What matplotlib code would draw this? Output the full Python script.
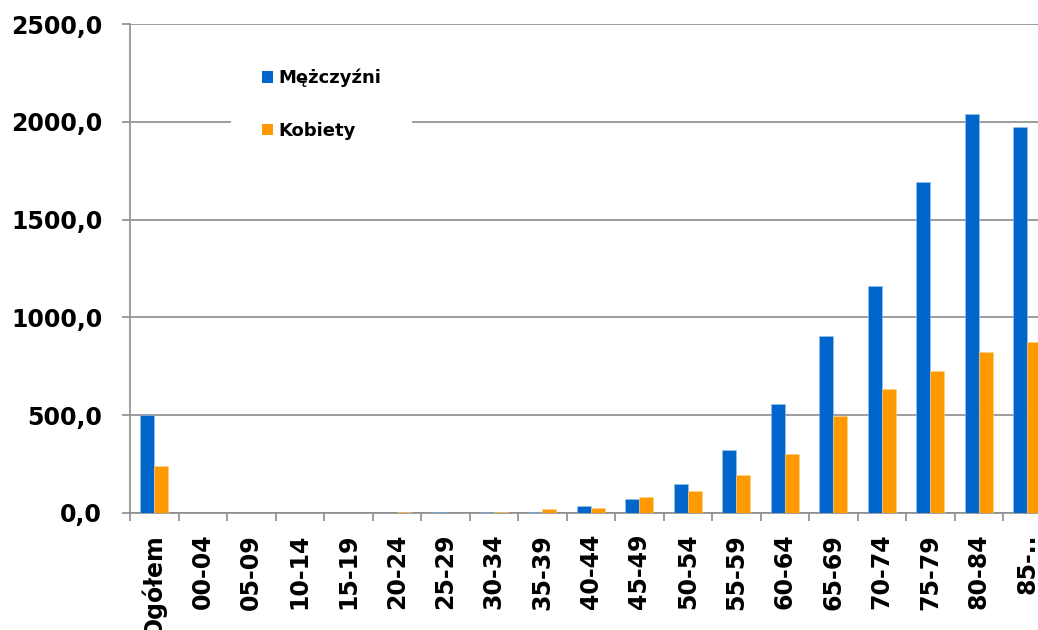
import matplotlib
matplotlib.use('Agg')
import matplotlib.pyplot as plt
from matplotlib.patches import Patch
from matplotlib.ticker import FuncFormatter, FixedLocator
import numpy as np

# dane
kategorie = ['Ogółem', '00-04', '05-09', '10-14', '15-19', '20-24', '25-29',
             '30-34', '35-39', '40-44', '45-49', '50-54', '55-59', '60-64',
             '65-69', '70-74', '75-79', '80-84', '85-..']
mezczyzni = [501, 0, 0, 0, 0, 0, 3, 3, 5, 36, 70, 147, 322, 557, 906,
             1160, 1692, 2040, 1975]
kobiety = [240, 0, 0, 0, 0, 3, 0, 3, 21, 28, 82, 111, 194, 300, 496,
           634, 724, 825, 873]
y_ticks = [0, 500, 1000, 1500, 2000, 2500]

niebieski = '#0066CC'
pomaranczowy = '#FF9900'
szary = '#8c8c8c'

fig = plt.figure(figsize=(10.38, 6.30), dpi=100)
ax = fig.add_axes([130/1038, 1-513/630, 921.5/1038, 489/630])

x = np.arange(len(kategorie))
w = 0.29
ax.bar(x - w/2, mezczyzni, w, color=niebieski, edgecolor='#9cc3ea', linewidth=0.4, zorder=3)
ax.bar(x + w/2, kobiety, w, color=pomaranczowy, edgecolor='#ffd08a', linewidth=0.4, zorder=3)

ax.set_xlim(-0.5, len(kategorie) - 0.5)
ax.set_ylim(0, 2500)
ax.set_yticks(y_ticks)
ax.yaxis.set_major_formatter(FuncFormatter(lambda v, p: ('%.1f' % v).replace('.', ',')))
ax.yaxis.grid(True, color=szary, linewidth=1.2, zorder=0)
ax.set_axisbelow(True)

ax.set_xticks(x)
ax.set_xticklabels(kategorie, rotation=90, fontsize=17, fontweight='bold', va='top')
ax.xaxis.set_minor_locator(FixedLocator(np.arange(-0.5, len(kategorie), 1)))
ax.tick_params(axis='x', which='major', length=0, pad=15)
ax.tick_params(axis='x', which='minor', length=6, color=szary, width=1.2)
ax.tick_params(axis='y', length=6, color=szary, width=1.2, pad=14, labelsize=17)
for lab in ax.get_yticklabels():
    lab.set_fontweight('bold')

for s in ['top', 'right']:
    ax.spines[s].set_visible(False)
for s in ['left', 'bottom']:
    ax.spines[s].set_color(szary)
    ax.spines[s].set_linewidth(1.2)

uchwyty = [Patch(facecolor=niebieski, label='Mężczyźni'),
           Patch(facecolor=pomaranczowy, label='Kobiety')]
leg = ax.legend(handles=uchwyty, loc='upper left', bbox_to_anchor=(0.1096, 0.971),
                prop={'weight': 'bold', 'size': 13}, frameon=True, fancybox=False,
                handlelength=0.6, handleheight=0.6, handletextpad=0.35,
                labelspacing=1.9, borderpad=1.7, borderaxespad=0)
leg.get_frame().set_facecolor('white')
leg.get_frame().set_edgecolor('none')
leg.get_frame().set_alpha(1)

plt.savefig('out.png', dpi=100)
